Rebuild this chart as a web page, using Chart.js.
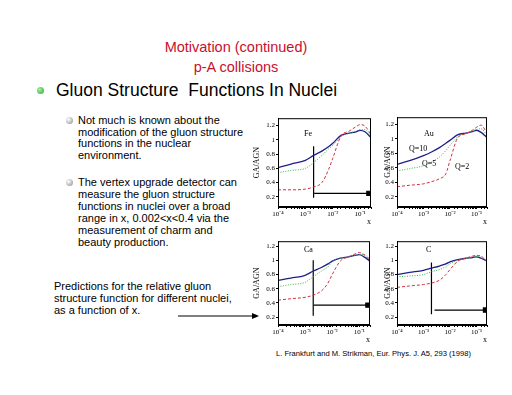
<!DOCTYPE html>
<html>
<head>
<meta charset="utf-8">
<script src="https://cdn.jsdelivr.net/npm/chart.js@4"></script>
<style>
  body { margin:0; width:512px; height:395px; position:relative; background:#fff; overflow:hidden;
         font-family:'Liberation Sans', Arial, sans-serif; }
  .t { position:absolute; white-space:nowrap; }
  canvas { position:absolute; }
  .lbl { position:absolute; font-family:'Liberation Serif', serif; font-size:8px; color:#000; }
  .gb { position:absolute; width:7px; height:7px; border-radius:50%;
        background:radial-gradient(circle at 35% 35%, #9ff09f, #2fa83a); }
  .sb { position:absolute; width:7px; height:7px; border-radius:50%;
        background:radial-gradient(circle at 35% 35%, #ffffff, #8a8a8a); }
</style>
</head>
<body>
<div class="t" style="left:0;width:472px;text-align:center;top:37px;font-size:14.5px;line-height:20px;color:#c8102e">Motivation (continued)<br>p-A collisions</div>
<div class="gb" style="left:37px;top:87px"></div>
<div class="t" style="left:56px;top:80px;font-size:17.5px;line-height:20px;color:#000">Gluon Structure&nbsp; Functions In Nuclei</div>

<div class="sb" style="left:66px;top:117px"></div>
<div class="t" style="left:78px;top:115px;font-size:11px;line-height:11.6px">Not much is known about the<br>modification of the gluon structure<br>functions in the nuclear<br>environment.</div>
<div class="sb" style="left:66px;top:179px"></div>
<div class="t" style="left:78px;top:177px;font-size:11px;line-height:11.9px">The vertex upgrade detector can<br>measure the gluon structure<br>functions in nuclei over a broad<br>range in x, 0.002&lt;x&lt;0.4 via the<br>measurement of charm and<br>beauty production.</div>
<div class="t" style="left:54px;top:281px;font-size:11px;line-height:11.8px">Predictions for the relative gluon<br>structure function for different nuclei,<br>as a function of x.</div>
<svg style="position:absolute;left:0;top:0" width="512" height="395">
  <line x1="178" y1="316" x2="254" y2="316" stroke="#000" stroke-width="1"/>
  <polygon points="252,313 259,316 252,319" fill="#000"/>
</svg>
<div class="t" style="left:276px;top:349px;font-size:7.6px;line-height:9px">L. Frankfurt and M. Strikman, Eur. Phys. J. A5, 293 (1998)</div>

<canvas id="cFe"></canvas>
<canvas id="cAu"></canvas>
<canvas id="cCa"></canvas>
<canvas id="cC"></canvas>

<div class="lbl" style="left:304px;top:129px">Fe</div>
<div class="lbl" style="left:424px;top:129px">Au</div>
<div class="lbl" style="left:409px;top:144px">Q=10</div>
<div class="lbl" style="left:422px;top:159px">Q=5</div>
<div class="lbl" style="left:455px;top:162px">Q=2</div>
<div class="lbl" style="left:304px;top:245px">Ca</div>
<div class="lbl" style="left:426px;top:245px">C</div>

<script>
// shared x grid (Bjorken x)
const xs = [1e-4, 3e-4, 1e-3, 2e-3, 4e-3, 7e-3, 1e-2, 2e-2, 4e-2, 7e-2, 0.1, 0.15, 0.25];
const yTicks = [0.2, 0.4, 0.6, 0.8, 1, 1.2];

// G_A / A G_N for Q = 10 (blue), Q = 5 (green), Q = 2 (red)
const feQ10 = [0.61, 0.66, 0.71, 0.78, 0.84, 0.90, 0.95, 1.06, 1.09, 1.11, 1.13, 1.11, 1.03];
const feQ5  = [0.54, 0.57, 0.60, 0.68, 0.78, 0.87, 0.92, 1.04, 1.09, 1.12, 1.14, 1.14, 1.04];
const feQ2  = [0.30, 0.30, 0.31, 0.34, 0.40, 0.58, 0.74, 1.05, 1.12, 1.18, 1.21, 1.19, 1.07];

const auQ10 = [0.65, 0.70, 0.77, 0.82, 0.88, 0.94, 0.98, 1.06, 1.08, 1.10, 1.12, 1.09, 1.02];
const auQ5  = [0.56, 0.59, 0.63, 0.68, 0.75, 0.84, 0.91, 1.03, 1.08, 1.11, 1.13, 1.14, 1.05];
const auQ2  = [0.34, 0.36, 0.38, 0.41, 0.45, 0.52, 0.70, 1.02, 1.07, 1.12, 1.16, 1.19, 1.08];

const caQ10 = [0.72, 0.75, 0.79, 0.85, 0.90, 0.95, 0.99, 1.03, 1.05, 1.07, 1.08, 1.05, 0.99];
const caQ5  = [0.63, 0.66, 0.69, 0.77, 0.85, 0.91, 0.98, 1.03, 1.05, 1.07, 1.08, 1.08, 1.02];
const caQ2  = [0.44, 0.46, 0.48, 0.51, 0.57, 0.68, 0.80, 0.99, 1.05, 1.09, 1.11, 1.08, 1.00];

const cQ10 = [0.80, 0.83, 0.86, 0.89, 0.92, 0.95, 0.98, 1.01, 1.03, 1.04, 1.05, 1.03, 0.99];
const cQ5  = [0.77, 0.78, 0.80, 0.84, 0.87, 0.91, 0.95, 1.00, 1.03, 1.05, 1.06, 1.05, 0.99];
const cQ2  = [0.62, 0.64, 0.66, 0.68, 0.72, 0.80, 0.87, 0.99, 1.03, 1.06, 1.07, 1.06, 0.98];

// reach of the detector: x cut, then line bottom, line top, arrow y, arrow start, arrow end
const cutX = 0.002;
const reachFe = [0.19, 0.91, 0.25, 0.0021, 0.21];
const reachCa = [0.22, 1.0, 0.37, 0.0021, 0.21];
const reachC  = [0.24, 0.97, 0.30, 0.0026, 0.22];

const sup = {'-':'\u207B','1':'\u00B9','2':'\u00B2','3':'\u00B3','4':'\u2074'};
function decadeLabel(v) {
  const e = Math.log10(v);
  if (Math.abs(e - Math.round(e)) > 1e-6) return '';
  return '10' + String(Math.round(e)).split('').map(c => sup[c]).join('');
}

const frameBox = {
  id: 'frameBox',
  afterDraw(chart) {
    const a = chart.chartArea, c = chart.ctx;
    c.save(); c.strokeStyle = '#000'; c.lineWidth = 1;
    c.strokeRect(a.left + 0.5, a.top + 0.5, a.width - 1, a.height - 1);
    c.restore();
  }
};

function curve(vals, color, dash, w) {
  return {
    data: xs.map((x, i) => ({x: x, y: vals[i]})),
    borderColor: color, borderWidth: w, borderDash: dash,
    pointRadius: 0, cubicInterpolationMode: 'monotone', fill: false
  };
}

function panel(id, frame, yMin, yMax, yW, q10, q5, q2, reach) {
  const [fx, fy, fw, fh] = frame;
  const padTop = 4, padRight = 8, xH = 20;
  const cv = document.getElementById(id);
  cv.width = yW + fw + padRight;
  cv.height = padTop + fh + xH;
  cv.style.left = (fx - yW) + 'px';
  cv.style.top = (fy - padTop) + 'px';

  const sets = [
    curve(q2, '#d2323c', [3, 2], 1),
    curve(q5, '#36b24a', [1, 1.5], 1),
    curve(q10, '#1e1e8c', [], 1.3)
  ];
  if (reach) {
    sets.push({
      data: [{x: cutX, y: reach[0]}, {x: cutX, y: reach[1]}],
      borderColor: '#000', borderWidth: 1.2, pointRadius: 0
    });
    sets.push({
      data: [{x: reach[3], y: reach[2]}, {x: reach[4], y: reach[2]}],
      borderColor: '#000', borderWidth: 1.2, backgroundColor: '#000',
      pointRadius: [0, 3], pointStyle: 'rect'
    });
  }

  new Chart(cv, {
    type: 'line',
    data: {datasets: sets},
    plugins: [frameBox],
    options: {
      responsive: false, animation: false, devicePixelRatio: 1,
      layout: {padding: {top: padTop, right: padRight, left: 0, bottom: 0}},
      plugins: {legend: {display: false}, tooltip: {enabled: false}},
      scales: {
        x: {
          type: 'logarithmic', min: 1e-4, max: 0.25,
          afterFit: s => { s.height = xH; },
          grid: {drawOnChartArea: false, color: '#000', tickLength: 2},
          border: {color: '#000'},
          ticks: {autoSkip: false, maxRotation: 0, padding: 1, color: '#000',
                  font: {family: 'Liberation Serif', size: 7}, callback: v => decadeLabel(v)},
          title: {display: true, text: 'x', align: 'end', padding: 0, color: '#000',
                  font: {family: 'Liberation Serif', size: 8}}
        },
        y: {
          min: yMin, max: yMax,
          afterBuildTicks: s => { s.ticks = yTicks.map(v => ({value: v})); },
          afterFit: s => { s.width = yW; },
          grid: {drawOnChartArea: false, color: '#000', tickLength: 2},
          border: {color: '#000'},
          ticks: {padding: 1, color: '#000', font: {family: 'Liberation Serif', size: 7},
                  callback: v => String(Math.round(v * 10) / 10)},
          title: {display: true, text: 'GA/AGN', padding: 0, color: '#000',
                  font: {family: 'Liberation Serif', size: 8}}
        }
      }
    }
  });
}

panel('cFe', [278, 117, 93, 90], 0.06, 1.3, 26, feQ10, feQ5, feQ2, reachFe);
panel('cAu', [397, 116, 90, 91], 0.06, 1.3, 14, auQ10, auQ5, auQ2, null);
panel('cCa', [278, 240, 92, 85], 0.09, 1.27, 26, caQ10, caQ5, caQ2, reachCa);
panel('cC',  [397, 240, 90, 85], 0.09, 1.27, 14, cQ10, cQ5, cQ2, reachC);
</script>
</body>
</html>
